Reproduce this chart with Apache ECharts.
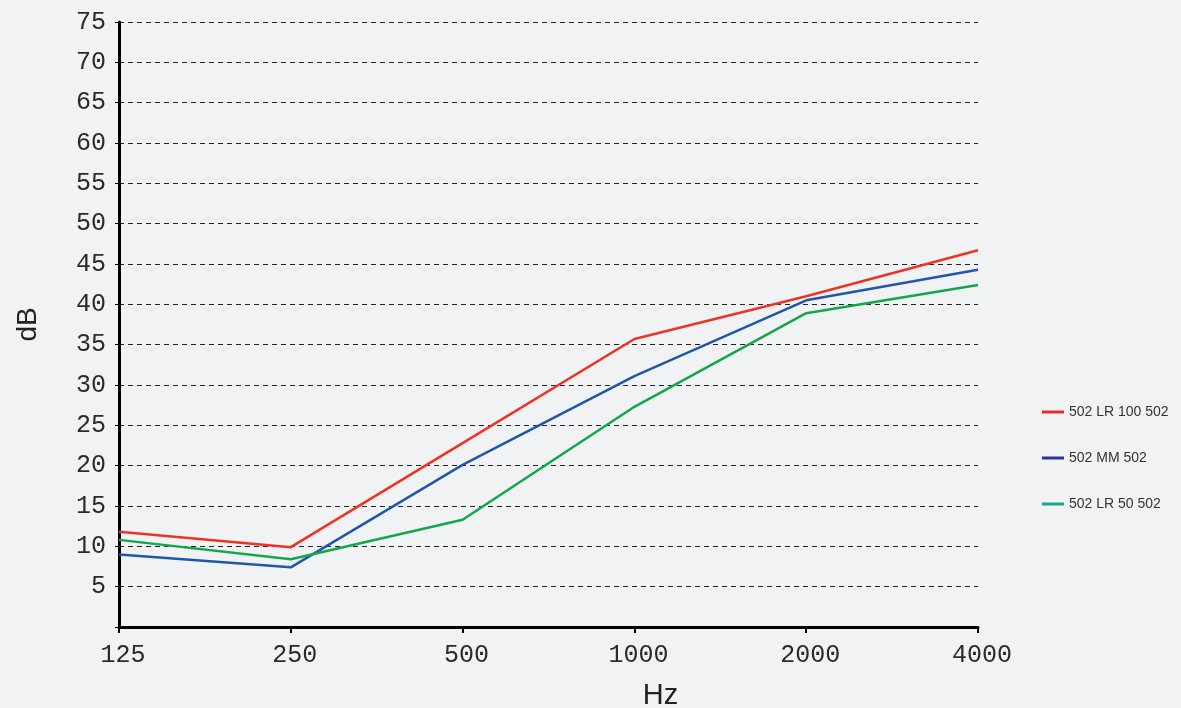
<!DOCTYPE html>
<html>
<head>
<meta charset="utf-8">
<script src="https://cdn.jsdelivr.net/npm/echarts@6/dist/echarts.min.js"></script>
<style>
html,body{margin:0;padding:0;background:#f1f2f4;}
#chart{width:1181px;height:708px;}
</style>
</head>
<body>
<div id="chart"></div>
<script>
const categories = ['125', '250', '500', '1000', '2000', '4000'];
const seriesNames = ['502 LR 100 502', '502 MM 502', '502 LR 50 502'];
const lr100 = [11.8, 9.9, 22.8, 35.7, 41.0, 46.7];
const mm = [9.0, 7.4, 20.1, 31.1, 40.5, 44.3];
const lr50 = [10.8, 8.4, 13.3, 27.3, 38.9, 42.4];
const lineColors = ['#ec3424', '#2158a6', '#13a64b'];
const legendColors = ['#ec2a2a', '#27398f', '#15a98b'];

const chart = echarts.init(document.getElementById('chart'));
const dataSets = [lr100, mm, lr50];
chart.setOption({
  backgroundColor: '#f1f2f4',
  animation: false,
  grid: {left: 119, right: 203, top: 22, bottom: 81, containLabel: false, outerBoundsMode: 'none'},
  legend: {
    orient: 'vertical',
    left: 1037,
    top: 400,
    itemGap: 32,
    itemWidth: 22,
    itemHeight: 3,
    icon: 'rect',
    textStyle: {fontFamily: 'Liberation Sans', fontSize: 14, color: '#333'},
    data: seriesNames.map((n, i) => ({name: n, itemStyle: {color: legendColors[i]}}))
  },
  xAxis: {
    type: 'category',
    data: categories,
    boundaryGap: false,
    name: 'Hz',
    nameLocation: 'middle',
    nameGap: 54,
    nameTextStyle: {fontFamily: 'Liberation Sans', fontSize: 29, color: '#222', padding: [0, 0, 0, 224]},
    axisLine: {lineStyle: {color: '#000', width: 3}},
    axisTick: {show: true, alignWithLabel: true, length: 6, lineStyle: {color: '#000', width: 2}},
    axisLabel: {fontFamily: 'Liberation Mono', fontSize: 25, color: '#2a2a2a', margin: 16, padding: [0, 0, 0, 8]},
    splitLine: {show: false}
  },
  yAxis: {
    type: 'value',
    min: 0,
    max: 75,
    interval: 5,
    name: 'dB',
    nameLocation: 'middle',
    nameGap: 77,
    nameRotate: 90,
    nameTextStyle: {fontFamily: 'Liberation Sans', fontSize: 28, color: '#222'},
    axisLine: {show: true, lineStyle: {color: '#000', width: 3}},
    axisTick: {show: true, length: 4, lineStyle: {color: '#000', width: 1}},
    axisLabel: {
      fontFamily: 'Liberation Mono', fontSize: 25, color: '#2a2a2a', margin: 13,
      formatter: v => (v === 0 ? '' : String(v))
    },
    splitLine: {show: true, lineStyle: {color: '#222', width: 1, type: [5, 4]}}
  },
  series: seriesNames.map((n, i) => ({
    name: n,
    type: 'line',
    data: dataSets[i],
    symbol: 'none',
    lineStyle: {color: lineColors[i], width: 2.5},
    itemStyle: {color: lineColors[i]}
  }))
});
</script>
</body>
</html>
